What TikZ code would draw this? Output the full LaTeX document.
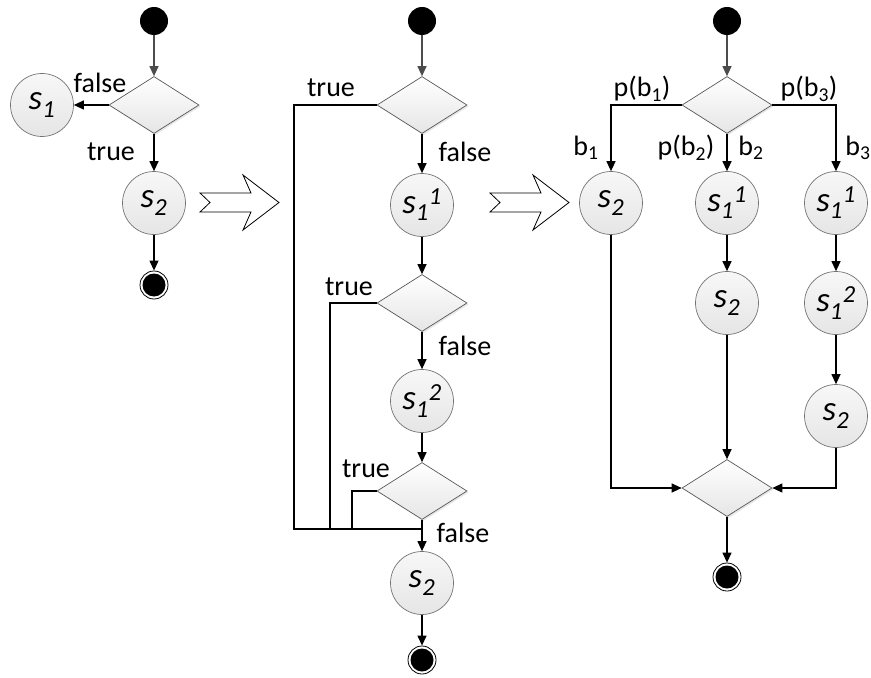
\documentclass[tikz,border=0pt]{standalone}
\usepackage{fontspec}
\setmainfont{Carlito}
\usetikzlibrary{arrows.meta,shapes.geometric,shadows}

\begin{document}
\begin{tikzpicture}[x=1bp,y=-1bp,
  conn/.style={line width=1.2bp,draw=black},
  arr/.style={conn,-{Triangle[length=10bp,width=9bp]}},
  startarr/.style={line width=1.2bp,draw=black!70,-{Triangle[length=10bp,width=9bp]}},
  stmt/.style={circle,minimum size=63bp,inner sep=0,draw=black!55,line width=0.7bp,top color=black!3,bottom color=black!10,font=\fontsize{35bp}{38bp}\selectfont\itshape},
  decision/.style={diamond,minimum width=90bp,minimum height=57bp,inner sep=0,draw=black!65,line width=0.7bp,top color=white,bottom color=black!10,drop shadow={opacity=0.2,shadow xshift=1.5bp,shadow yshift=-1.5bp}},
  initial/.style={circle,fill=black,minimum size=28bp,inner sep=0},
  final/.style={circle,draw=black,line width=0.8bp,fill=white,minimum size=28bp,inner sep=0,path picture={\fill[black] (path picture bounding box.center) circle[radius=11.5bp];}},
  lbl/.style={font=\fontsize{28bp}{31bp}\selectfont,inner sep=0},
  hollow/.style={draw=black,line width=0.8bp,fill=white,line join=miter}
]
\useasboundingbox (0,0) rectangle (871,678);

% ---------- left diagram ----------
\node[initial] (ls) at (154,21) {};
\node[decision] (ld) at (154,105) {};
\node[stmt] (ls1) at (42,105) {s\textsubscript{1}};
\node[stmt] (ls2) at (154,203) {s\textsubscript{2}};
\node[final] (le) at (154,285) {};
\draw[startarr] (ls) -- (ld);
\draw[arr] (ld) -- (ls1);
\draw[arr] (ld) -- (ls2);
\draw[arr] (ls2) -- (le);
\node[lbl] (lf) at (100,83) {false};
\node[lbl] (lt) at (111,152) {true};

% ---------- hollow arrows ----------
\draw[hollow] (200,193) -- (251,193) -- (243,175) -- (279,202.5) -- (243,230) -- (251,212) -- (200,212) -- (210,202.5) -- cycle;
\draw[hollow] (490,193) -- (541,193) -- (533,175) -- (569,202.5) -- (533,230) -- (541,212) -- (490,212) -- (500,202.5) -- cycle;

% ---------- middle diagram ----------
\node[initial] (ms) at (422,21) {};
\node[decision] (md1) at (422,105) {};
\node[stmt] (ms11) at (422,205) {s\textsubscript{1}\textsuperscript{1}};
\node[decision] (md2) at (422,303) {};
\node[stmt] (ms12) at (422,401) {s\textsubscript{1}\textsuperscript{2}};
\node[decision] (md3) at (422,491) {};
\coordinate (mj) at (422,529);
\coordinate (mx1) at (294,529);
\coordinate (mx2) at (330,529);
\coordinate (mx3) at (352,529);
\node[stmt] (ms2) at (422,583) {s\textsubscript{2}};
\node[final] (me) at (422,660) {};
\draw[startarr] (ms) -- (md1);
\draw[arr] (md1) -- (ms11);
\draw[arr] (ms11) -- (md2);
\draw[arr] (md2) -- (ms12);
\draw[arr] (ms12) -- (md3);
\draw[arr] (md3) -- (ms2);
\draw[arr] (ms2) -- (me);
\draw[conn] (md1.west) -| (mx1) -- (mj);
\draw[conn] (md2.west) -| (mx2);
\draw[conn] (md3.west) -| (mx3);
\node[lbl] (mt1) at (331,88) {true};
\node[lbl] (mf1) at (465,152) {false};
\node[lbl] (mt2) at (349,287) {true};
\node[lbl] (mf2) at (465,346) {false};
\node[lbl] (mt3) at (366,469) {true};
\node[lbl] (mf3) at (463,533) {false};

% ---------- right diagram ----------
\node[initial] (rs) at (727,21) {};
\node[decision] (rd) at (727,105) {};
\node[stmt] (ra1) at (611,203) {s\textsubscript{2}};
\node[stmt] (rb1) at (727,203) {s\textsubscript{1}\textsuperscript{1}};
\node[stmt] (rb2) at (727,303) {s\textsubscript{2}};
\node[stmt] (rc1) at (836,203) {s\textsubscript{1}\textsuperscript{1}};
\node[stmt] (rc2) at (836,303) {s\textsubscript{1}\textsuperscript{2}};
\node[stmt] (rc3) at (836,416) {s\textsubscript{2}};
\node[decision] (rm) at (727,488) {};
\node[final] (re) at (727,577) {};
\draw[startarr] (rs) -- (rd);
\draw[arr] (rd.west) -| (ra1);
\draw[arr] (rd) -- (rb1);
\draw[arr] (rd.east) -| (rc1);
\draw[arr] (rb1) -- (rb2);
\draw[arr] (rc1) -- (rc2);
\draw[arr] (rc2) -- (rc3);
\draw[arr] (ra1) |- (rm.west);
\draw[arr] (rb2) -- (rm);
\draw[arr] (rc3) |- (rm.east);
\draw[arr] (rm) -- (re);
\node[lbl] (rp1) at (642,89) {p(b\textsubscript{1})};
\node[lbl] (rp3) at (809,89) {p(b\textsubscript{3})};
\node[lbl] (rp2) at (686,148) {p(b\textsubscript{2})};
\node[lbl] (rl1) at (586,148) {b\textsubscript{1}};
\node[lbl] (rl2) at (751,148) {b\textsubscript{2}};
\node[lbl] (rl3) at (858,148) {b\textsubscript{3}};
\end{tikzpicture}
\end{document}
